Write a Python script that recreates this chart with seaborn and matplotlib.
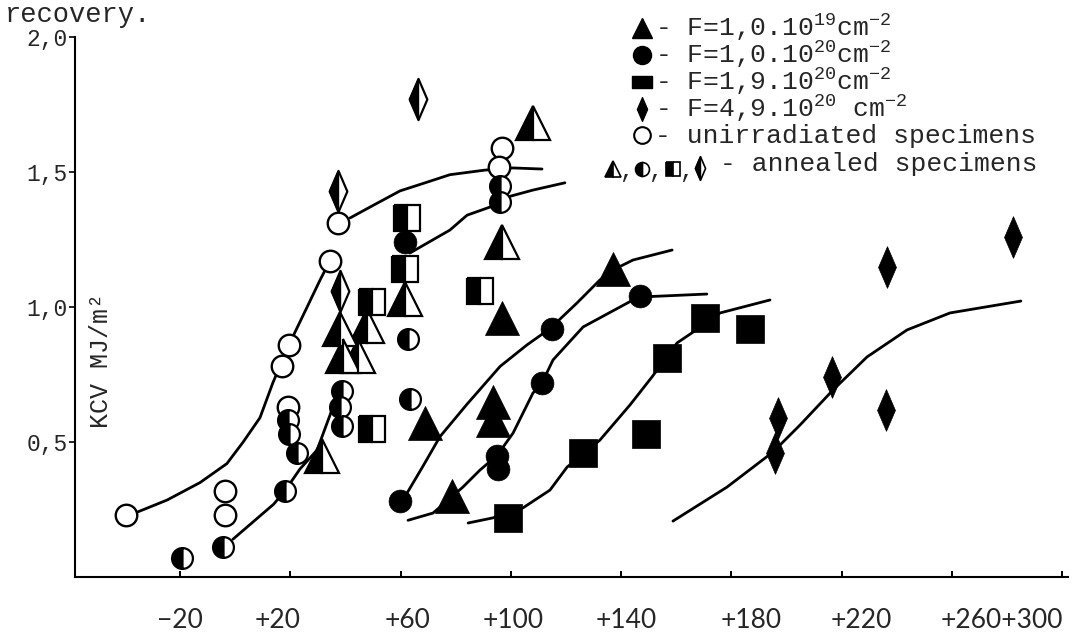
import matplotlib
matplotlib.use("Agg")
import matplotlib.pyplot as plt
import seaborn as sns
from matplotlib.path import Path

# ---- values: annealing temperature (deg C) vs KCV (MJ/m2) ----
unirr_x = [-39.6, -3.7, -3.7, 17.0, 19.5, 19.2, 34.4, 37.3, 96.8, 95.7]
unirr_y = [0.23, 0.32, 0.23, 0.78, 0.86, 0.63, 1.17, 1.31, 1.59, 1.52]

f19_x = [68.9, 78.7, 93.5, 93.5, 96.8, 137.0]
f19_y = [0.57, 0.30, 0.65, 0.58, 0.96, 1.14]
f19_ann_x = [108.0, 96.8, 61.6, 38.0, 39.1, 47.8, 44.6, 31.5]
f19_ann_y = [1.68, 1.24, 1.03, 0.92, 0.82, 0.93, 0.82, 0.45]

f20_x = [59.8, 61.6, 95.0, 95.3, 111.3, 114.9, 146.8]
f20_y = [0.28, 1.24, 0.45, 0.40, 0.72, 0.92, 1.04]
f20_ann_x = [-19.3, -4.4, 18.1, 19.2, 19.5, 22.4, 38.8, 38.0, 38.8, 62.7, 63.4, 96.1, 96.1]
f20_ann_y = [0.07, 0.11, 0.32, 0.58, 0.53, 0.46, 0.69, 0.63, 0.56, 0.88, 0.66, 1.45, 1.39]

f19e20_x = [99.0, 126.2, 149.0, 156.6, 170.4, 186.7]
f19e20_y = [0.22, 0.46, 0.53, 0.81, 0.96, 0.92]
f19e20_ann_x = [62.3, 61.6, 49.6, 49.6, 88.8]
f19e20_ann_y = [1.33, 1.14, 1.02, 0.55, 1.06]

f49e20_x = [196.9, 195.8, 216.5, 236.1, 236.4, 282.1]
f49e20_y = [0.59, 0.46, 0.74, 0.62, 1.15, 1.26]
f49e20_ann_x = [37.3, 38.0, 66.3]
f49e20_ann_y = [1.43, 1.06, 1.77]

# hand drawn trend curves
curve_unirr_lo_x = [-35.6, -24.7, -12.7, -3.0, 2.9, 9.0, 13.7, 19.5, 26.1, 30.8, 33.3]
curve_unirr_lo_y = [0.24, 0.285, 0.35, 0.42, 0.50, 0.59, 0.72, 0.86, 1.00, 1.10, 1.15]
curve_unirr_hi_x = [41.7, 50.7, 59.8, 68.9, 77.9, 90.6, 100.8, 111.3]
curve_unirr_hi_y = [1.33, 1.38, 1.43, 1.46, 1.49, 1.507, 1.515, 1.511]
curve_ann_lo_x = [-0.8, 14.0, 18.1, 23.5, 29.7, 35.5]
curve_ann_lo_y = [0.14, 0.27, 0.32, 0.40, 0.47, 0.63]
curve_ann_hi_x = [61.6, 63.4, 77.9, 84.1, 92.4, 96.1, 108.0, 119.6]
curve_ann_hi_y = [1.24, 1.20, 1.285, 1.34, 1.37, 1.40, 1.433, 1.46]
curve_f19_x = [59.8, 62.3, 68.1, 74.3, 84.1, 96.1, 105.9, 114.2, 124.0, 132.3, 137.0, 144.3, 158.5]
curve_f19_y = [0.28, 0.31, 0.41, 0.52, 0.64, 0.78, 0.86, 0.92, 1.015, 1.10, 1.137, 1.174, 1.211]
curve_f20_x = [62.7, 71.8, 82.6, 88.8, 95.0, 100.8, 108.0, 111.3, 115.3, 126.2, 144.3, 146.8, 171.1]
curve_f20_y = [0.21, 0.237, 0.333, 0.396, 0.45, 0.533, 0.681, 0.719, 0.804, 0.926, 1.026, 1.037, 1.048]
curve_f19e20_x = [84.5, 93.5, 104.4, 114.2, 120.4, 132.3, 143.2, 151.2, 160.3, 166.1, 175.9, 194.0]
curve_f19e20_y = [0.20, 0.219, 0.256, 0.322, 0.407, 0.507, 0.637, 0.741, 0.867, 0.907, 0.978, 1.026]
curve_f49e20_x = [158.8, 178.4, 195.1, 204.9, 216.9, 229.2, 243.7, 259.3, 285.0]
curve_f49e20_y = [0.207, 0.333, 0.463, 0.563, 0.693, 0.815, 0.915, 0.978, 1.022]

# tick marks sit on a regular 40 deg grid, the typed labels below wander a little
x_ticks = [-20, 20, 60, 100, 140, 180, 220, 260, 300]
x_label_pos = [-20, 15.5, 62.5, 101, 142, 187, 227, 278]
x_label_text = ["\u221220", "+20", "+60", "+100", "+140", "+180", "+220", "+260+300"]
y_ticks = [0.5, 1.0, 1.5, 2.0]
y_tick_labels = ["0,5", "1,0", "1,5", "2,0"]

legend_rows = [
    r"- F=1,0.$10^{19}\mathrm{cm}^{-2}$",
    r"- F=1,0.$10^{20}\mathrm{cm}^{-2}$",
    r"- F=1,9.$10^{20}\mathrm{cm}^{-2}$",
    r"- F=4,9.$10^{20}$ $\mathrm{cm}^{-2}$",
    "- unirradiated specimens",
]

sns.set_style("ticks")
plt.rcParams["font.family"] = ["Liberation Mono", "DejaVu Sans"]
plt.rcParams["mathtext.fontset"] = "custom"
plt.rcParams["mathtext.rm"] = "Liberation Mono"
plt.rcParams["mathtext.it"] = "Liberation Mono:italic"
plt.rcParams["mathtext.bf"] = "Liberation Mono:bold"

MONO = ["Liberation Mono", "DejaVu Sans"]
SANS = ["Lato", "DejaVu Sans"]

diamond = Path([(0, 1), (0.43, 0), (0, -1), (-0.43, 0), (0, 1)],
               [Path.MOVETO, Path.LINETO, Path.LINETO, Path.LINETO, Path.CLOSEPOLY])
diamond_left = Path([(0, 1), (-0.43, 0), (0, -1), (0, 1)],
                    [Path.MOVETO, Path.LINETO, Path.LINETO, Path.CLOSEPOLY])
flat_box = Path([(-1, -0.6), (1, -0.6), (1, 0.6), (-1, 0.6), (-1, -0.6)],
                [Path.MOVETO, Path.LINETO, Path.LINETO, Path.LINETO, Path.CLOSEPOLY])

fig = plt.figure(figsize=(10.78, 6.34), dpi=100)
ax = fig.add_axes([75 / 1078, 57 / 634, 993 / 1078, 540 / 634])

# curves
curves = [
    (curve_unirr_lo_x, curve_unirr_lo_y), (curve_unirr_hi_x, curve_unirr_hi_y),
    (curve_ann_lo_x, curve_ann_lo_y), (curve_ann_hi_x, curve_ann_hi_y),
    (curve_f19_x, curve_f19_y), (curve_f20_x, curve_f20_y),
    (curve_f19e20_x, curve_f19e20_y), (curve_f49e20_x, curve_f49e20_y),
]
for cx, cy in curves:
    sns.lineplot(x=cx, y=cy, ax=ax, sort=False, estimator=None, color="black",
                 linewidth=2.0, solid_joinstyle="round", solid_capstyle="round", zorder=2)

# irradiated (full black) markers
sns.scatterplot(x=f19_x, y=f19_y, ax=ax, marker="^", s=600, color="black",
                edgecolor="black", linewidth=0.5, zorder=4)
sns.scatterplot(x=f20_x, y=f20_y, ax=ax, marker="o", s=270, color="black",
                edgecolor="black", linewidth=0.5, zorder=4)
sns.scatterplot(x=f19e20_x, y=f19e20_y, ax=ax, marker="s", s=400, color="black",
                edgecolor="black", linewidth=0.5, zorder=4)
sns.scatterplot(x=f49e20_x, y=f49e20_y, ax=ax, marker=diamond, s=900, color="black",
                edgecolor="black", linewidth=0.5, zorder=4)
sns.scatterplot(x=unirr_x, y=unirr_y, ax=ax, marker="o", s=240, color="white",
                edgecolor="black", linewidth=1.7, zorder=4)

# annealed (half filled) markers
half = dict(linestyle="none", fillstyle="left", markerfacecolor="black",
            markerfacecoloralt="white", markeredgecolor="black", markeredgewidth=1.6, zorder=5)
ax.plot(f19_ann_x, f19_ann_y, marker="^", markersize=24, **half)
ax.plot(f20_ann_x, f20_ann_y, marker="o", markersize=15, **half)
ax.plot(f19e20_ann_x, f19e20_ann_y, marker="s", markersize=19, **half)
sns.scatterplot(x=f49e20_ann_x, y=f49e20_ann_y, ax=ax, marker=diamond, s=880, color="white",
                edgecolor="black", linewidth=1.6, zorder=5)
sns.scatterplot(x=f49e20_ann_x, y=f49e20_ann_y, ax=ax, marker=diamond_left, s=880, color="black",
                edgecolor="black", linewidth=1.0, zorder=6)

ax.set_xlim(-58.1, 302.1)
ax.set_ylim(0, 2.0)
ax.xaxis.remove_overlapping_locs = False
ax.set_xticks(x_ticks, labels=[""] * len(x_ticks))
ax.set_xticks(x_label_pos, labels=x_label_text, minor=True)
ax.set_yticks(y_ticks, labels=y_tick_labels)
ax.tick_params(axis="x", which="major", direction="in", length=4, width=1.4, colors="black")
ax.tick_params(axis="x", which="minor", length=0, pad=22, labelsize=19)
ax.tick_params(axis="y", direction="out", length=4, width=1.4, pad=1, labelsize=16.5)
for lab in ax.get_xticklabels(minor=True):
    lab.set_fontfamily(SANS)
for lab in ax.get_yticklabels():
    lab.set_fontfamily(MONO)
ax.set_xlabel("")
ax.set_ylabel("")
sns.despine(ax=ax)
for side in ["left", "bottom"]:
    ax.spines[side].set_linewidth(1.5)
    ax.spines[side].set_color("black")
ax.grid(False)

# overlay in pixel units for the key and the loose captions
ov = fig.add_axes([0, 0, 1, 1], facecolor="none")
ov.set_xlim(0, 1078)
ov.set_ylim(634, 0)
ov.set_axis_off()

ov.text(5, 22, "recovery.", fontsize=19.5, family=MONO, va="baseline", ha="left")
ov.text(101, 361, "KCV MJ/m\u00b2", fontsize=18, family=MONO, rotation=90,
        ha="center", va="center")

row_y = [28, 55, 82, 109, 135]
key_marks = [
    dict(marker="^", markersize=14, color="black"),
    dict(marker="o", markersize=13, color="black"),
    dict(marker=flat_box, markersize=15, color="black"),
    dict(marker=diamond, markersize=17, color="black"),
    dict(marker="o", markersize=12, markerfacecolor="white", markeredgecolor="black",
         markeredgewidth=1.5),
]
for yy, text, mk in zip(row_y, legend_rows, key_marks):
    ov.plot([642], [yy], linestyle="none", **mk)
    ov.text(655, yy + 8, text, fontsize=19, family=MONO, va="baseline", ha="left")

# last key row: the four half filled symbols
key_half = dict(linestyle="none", fillstyle="left", markerfacecolor="black",
                markerfacecoloralt="white", markeredgecolor="black", markeredgewidth=1.2)
ov.plot([613], [169], marker="^", markersize=11, **key_half)
ov.plot([642], [169], marker="o", markersize=10, **key_half)
ov.plot([673], [169], marker="s", markersize=10, **key_half)
ov.plot([700], [168], marker=diamond, markersize=17, color="white",
        markeredgecolor="black", markeredgewidth=1.2, linestyle="none")
ov.plot([700], [168], marker=diamond_left, markersize=17, color="black", linestyle="none")
for cx in [626, 655, 686]:
    ov.text(cx, 178, ",", fontsize=17, family=MONO, ha="center", va="baseline")
ov.text(720, 171, "- annealed specimens", fontsize=19, family=MONO, va="baseline", ha="left")

fig.savefig("out.png", dpi=100, facecolor="white")
